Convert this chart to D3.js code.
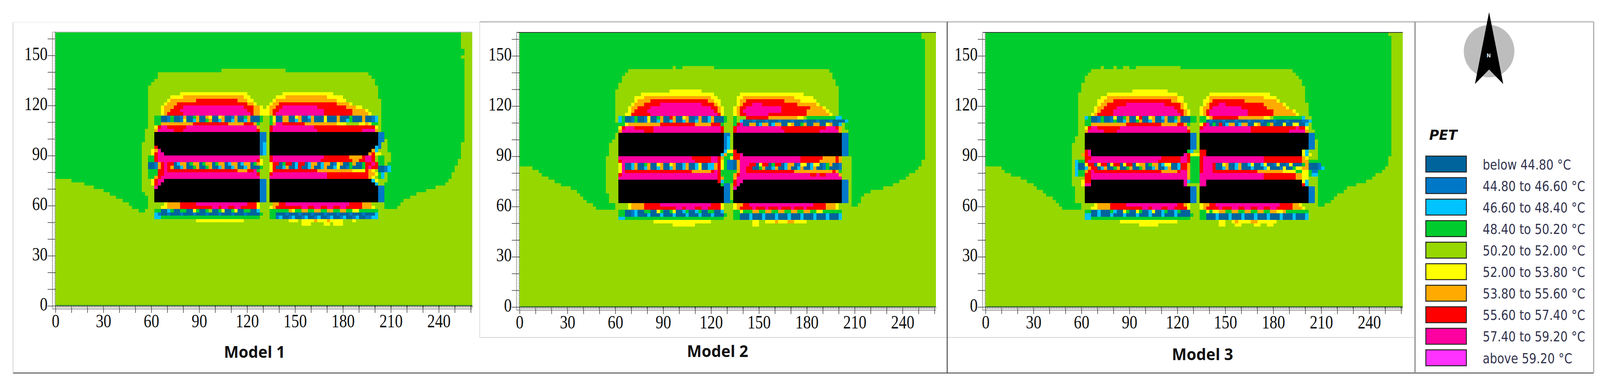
<!DOCTYPE html>
<html lang="en">
<head>
  <meta charset="UTF-8">
  <title>PET maps of three models</title>
  <script src="https://d3js.org/d3.v7.min.js"></script>
  <style>
    html, body { margin: 0; padding: 0; background: #fff; overflow: hidden; }
    svg { display: block; width: 100vw; height: 100vh; }
    .tick text { font-family: "Liberation Serif", serif; font-size: 44px; fill: #111; }
    .tick line { stroke: #444; stroke-width: 1.6px; }
    .title { font-family: "Open Sans", sans-serif; font-weight: 700; font-size: 42px; fill: #111; text-anchor: middle; }
    .legend-label { font-family: "DejaVu Sans", sans-serif; font-size: 31px; fill: #33344e; }
  </style>
</head>
<body>
  <svg id="chart" viewBox="0 0 4299 978" preserveAspectRatio="none"></svg>

  <script>
    // PET classes, coolest first, then the building colour
    const legendLabels = ["below 44.80 °C", "44.80 to 46.60 °C", "46.60 to 48.40 °C", "48.40 to 50.20 °C", "50.20 to 52.00 °C",
      "52.00 to 53.80 °C", "53.80 to 55.60 °C", "55.60 to 57.40 °C", "57.40 to 59.20 °C", "above 59.20 °C"];
    const classColors = ["#00649c", "#0078c8", "#00c3ff", "#00cd2d", "#96d700", "#ffff00", "#ffaa00", "#ff0000", "#ff00a0", "#ff32ff", "#000000"];

    const modelNames = ["Model 1", "Model 2", "Model 3"];
    const xTicks = [0, 10, 20, 30, 40, 50, 60, 70, 80, 90, 100, 110, 120, 130, 140, 150, 160, 170, 180, 190, 200, 210, 220, 230, 240, 250, 260];
    const yTicks = [0, 10, 20, 30, 40, 50, 60, 70, 80, 90, 100, 110, 120, 130, 140, 150, 160];

    // Outline of the 48.40-50.20 area, in metres
    const model1Green = [[0,164],[253.4,164],[253.4,154.5],[255.2,154.5],[255.2,150],[253.4,150],[253.4,148],[255.2,148],[255.2,100],[254,90],[250,82],[245,73],[235,70],[224,66],[216,62],[213,58],[207.6,58],[205.7,60.6],[205.7,62.9],[207.6,78.5],[209.5,89.5],[207,99.6],[205.4,104.3],[203.3,104.3],[203,124.3],[201.7,124.3],[201,131.7],[199,135.6],[195.8,140],[65.8,140],[62,135.6],[60,132.5],[58,129.8],[58,105.9],[56,105.9],[56,98.5],[54,98],[54,68.4],[56,68.4],[58,61.7],[58,58.2],[56,58.2],[56,55.5],[52,55.5],[52,58],[49.2,58.2],[44.8,62],[29,69.6],[13,74.7],[0,76.5]];
    const model2Green = [[0,164],[252,164],[253,161],[253.2,126],[255,125.4],[255,103],[253.5,88],[250,82.5],[239,75],[225,70],[217,68],[211,60],[208,60],[208,90],[206,90],[206,104],[204,107],[201,113.8],[200.8,124.7],[198.7,133.4],[193.5,141.4],[67.7,141.4],[61.4,132.7],[60,125.4],[61.4,104.3],[55.6,95.6],[53.7,81],[55.6,62.2],[60,62],[59,58],[50,58],[41.7,63],[34.4,70],[25,73.8],[16.7,78],[6.3,83.7],[0,83.7]];
    const model3Green = [[0,164],[251.8,164],[253.4,162],[253.8,127.6],[255,127],[255,122.5],[254.8,100.7],[252.8,88.4],[249.8,82.5],[241.8,76.7],[225.7,70.9],[217.7,65.1],[211.7,60],[207.7,60],[209,81],[207.7,97],[202.6,114.5],[199.6,129],[197.6,136.3],[190.6,141.4],[66.2,141.4],[62.2,136.3],[60.1,131.2],[57.1,121],[58.1,104.3],[54.1,97],[54.1,81],[56.1,62.2],[59.1,62],[59.1,58],[50.1,58],[43.1,63.6],[36,68.7],[27,74.6],[15,79.6],[8,83.7],[0,83.7]];

    // Each row: lower edge v, then u, class, u, class, ... u (2 m cells)
    const model1Rows = [
      [140, 104,4,144],
      [126, 78,5,120,4,142,5,174],
      [124, 72,5,80,6,118,5,122,4,138,5,144,6,170,5,180],
      [122, 70,5,72,6,88,7,114,6,120,5,124,4,136,5,138,6,176,5,182],
      [120, 68,5,70,6,76,7,120,6,124,5,126,4,134,5,136,6,140,7,176,6,184,5,186],
      [118, 66,5,68,6,74,7,80,8,118,7,124,6,128,5,130,4,132,5,134,6,138,7,142,8,164,7,182,6,188,5,192],
      [116, 66,5,68,6,72,7,78,8,120,7,124,6,128,5,134,6,136,7,140,8,168,7,186,6,194,5,196],
      [114, 66,5,68,6,70,7,80,8,122,7,124,6,128,5,134,6,136,7,138,8,168,7,186,6,196,5,198],
      [112, 62,3,66,0,70,1,72,3,74,0,78,1,80,6,82,0,86,3,88,6,90,0,94,6,96,5,98,0,102,5,104,6,106,0,110,1,112,6,114,0,118,3,120,6,122,0,128,3,130,4,134,3,136,5,138,0,142,6,146,0,150,5,152,6,154,0,158,2,160,6,162,0,168,5,170,0,176,6,178,0,184,3,186,0,192,6,194,0,198,1,200,2,202],
      [110, 62,3,66,0,70,1,72,3,74,0,78,1,80,5,82,0,86,2,88,6,90,0,94,3,96,6,98,0,102,2,104,6,106,0,110,2,112,6,114,0,118,2,120,6,122,0,128,3,130,4,134,3,136,5,138,0,142,6,146,0,150,2,152,6,154,0,158,1,160,6,162,0,168,5,170,0,176,6,178,0,182,2,184,3,186,0,192,6,194,0,198,1,200,2,202],
      [108, 62,3,66,6,86,7,108,6,118,7,124,6,126,3,128,4,134,3,136,6,138,8,142,7,156,6,176,5,182,4,190,5,194,6,196,5,198,3,202],
      [106, 62,5,64,7,66,8,70,7,82,8,126,6,128,4,134,7,136,8,162,7,200,5,202],
      [104, 62,6,64,8,74,7,80,8,126,7,128,4,134,7,136,8,164,7,192,8,200,6,202],
      [102, 62,10,128,1,132,4,134,10,202,1,206],
      [100, 62,10,128,1,132,4,134,10,202,1,206],
      [98, 62,10,128,1,132,4,134,10,202,1,206],
      [96, 62,10,128,1,130,2,132,4,134,10,202,1,204],
      [94, 62,7,64,10,128,1,130,2,132,4,134,10,200,2,202,1,204],
      [92, 60,5,62,6,64,8,66,10,128,1,130,2,132,4,134,10,198,6,200,2,202,4,204],
      [90, 60,5,62,7,64,8,68,10,128,1,130,2,132,4,134,10,196,6,198,7,200,5,204],
      [88, 58,3,62,7,64,8,128,4,134,7,136,8,168,7,184,6,192,7,194,8,198,7,200,4,202,3,206],
      [86, 58,3,62,7,64,8,126,7,128,5,130,4,134,7,136,8,166,7,186,6,190,7,194,8,198,7,200,4,202,3,206],
      [84, 58,0,62,1,64,6,66,7,68,8,70,7,74,0,76,2,78,6,82,0,84,3,86,6,90,0,92,3,94,6,98,0,100,3,102,6,106,0,108,2,110,6,114,0,116,2,118,6,122,0,124,3,126,6,128,5,130,4,134,5,136,7,140,0,142,3,144,7,148,0,150,2,152,7,156,0,158,2,160,6,164,0,166,2,168,6,172,0,174,1,176,5,178,6,180,0,184,3,186,6,188,0,192,3,194,7,198,8,200,7,202,3,206],
      [82, 58,0,62,1,64,6,66,7,68,8,70,7,72,6,74,0,78,2,80,6,82,0,86,3,88,6,90,0,94,3,96,6,98,0,102,2,104,6,106,0,110,2,112,6,114,0,118,2,120,6,122,0,128,3,130,4,134,5,136,7,138,0,142,2,144,6,146,0,150,2,152,7,154,0,158,2,160,6,162,0,166,2,168,6,170,0,174,2,176,5,178,0,182,1,184,3,186,0,192,3,194,7,196,8,198,7,202,0,206,1,208,2,210],
      [80, 58,3,64,7,68,8,70,7,114,6,120,7,124,8,126,3,128,4,134,5,136,7,164,6,186,5,194,7,196,6,198,5,200,4,202,0,206,1,208,2,210],
      [78, 58,3,64,7,68,8,126,7,128,4,134,7,136,8,170,7,196,6,200,5,202,3,204,2,206],
      [76, 58,3,62,6,64,7,66,8,128,4,134,8,170,7,196,6,198,5,200,4,202,3,204,2,206],
      [74, 60,5,62,7,64,8,68,10,128,1,132,4,134,10,198,2,200,5,202,4,204],
      [72, 60,5,62,7,64,8,66,10,128,1,132,4,134,10,200,2,202,4,204],
      [70, 62,8,64,10,128,1,132,4,134,10,202,1,206],
      [68, 62,10,128,1,132,4,134,10,202,1,206],
      [66, 62,10,128,1,132,4,134,10,202,1,206],
      [64, 62,10,128,1,132,4,134,10,202,1,206],
      [62, 62,10,128,1,132,4,134,10,202,1,206],
      [60, 68,5,70,6,78,7,88,8,120,7,126,5,128,4,136,6,140,7,144,8,184,7,192,6,198],
      [58, 66,5,70,6,78,7,98,8,102,7,104,8,108,7,112,8,116,7,126,5,128,4,134,5,136,6,138,7,154,8,158,7,162,8,166,7,170,8,174,7,178,8,182,7,192,6,198,5,200],
      [56, 62,3,66,0,70,2,72,3,74,0,78,3,82,0,86,5,88,3,90,0,94,3,96,4,98,0,102,3,104,5,106,0,110,3,112,5,114,0,118,3,122,0,126,2,128,4,134,3,146,6,148,5,150,3,154,6,158,3,162,6,166,3,170,6,174,3,178,6,182,3,186,5,190,3,202],
      [54, 62,2,64,1,66,0,70,1,72,0,78,1,80,0,86,1,88,0,94,1,96,0,102,1,104,0,110,1,112,0,118,1,120,0,128,3,130,4,134,3,138,0,144,1,146,0,152,1,154,0,160,1,162,0,168,1,170,0,176,1,178,0,184,1,186,0,192,1,194,0,200,2,202],
      [52, 62,2,66,3,128,4,134,3,138,1,140,2,142,0,146,1,148,2,150,0,154,1,156,2,158,0,162,1,164,2,166,0,170,1,172,2,174,0,178,1,180,2,182,0,186,1,188,2,190,0,194,1,198,2,202],
      [50, 88,5,118,4,146,5,152,4,154,5,162,6,164,5,170,6,172,5,180,4,186,5,188],
      [48, 154,5,160,4,168,5,172,4,174,5,180]
    ];

    const model2Rows = [
      [142, 96,4,98,3,102,4,122],
      [128, 94,5,114],
      [126, 76,5,122,4,138,5,178],
      [124, 72,5,78,6,120,5,124,4,136,5,140,6,172,5,184],
      [122, 72,5,74,6,82,7,118,6,122,5,126,4,136,5,138,6,142,7,166,6,176,5,186],
      [120, 70,5,72,6,78,7,88,8,114,7,122,6,124,5,126,4,136,5,138,6,140,7,146,8,152,7,174,6,186,5,188],
      [118, 68,5,70,6,74,7,82,8,120,7,124,6,126,5,128,4,134,5,136,6,138,7,142,8,164,7,182,6,190,5,192],
      [116, 68,5,70,6,72,7,80,8,122,7,124,6,126,5,128,4,134,5,136,6,138,7,140,8,164,7,180,6,192,5,194],
      [114, 66,5,70,7,82,8,124,7,126,5,128,4,134,5,136,6,138,7,142,8,156,7,180,6,194,5,196],
      [112, 62,2,64,3,66,0,70,1,72,3,74,0,78,1,80,5,82,0,86,3,88,6,90,0,94,7,96,6,98,0,102,5,104,6,106,0,110,1,112,6,114,0,118,2,120,6,122,0,128,3,130,4,134,3,136,4,142,7,156,6,174,5,178,4,180,3,198,2,202],
      [110, 62,2,64,3,66,0,70,1,72,3,74,0,78,1,80,5,82,0,86,2,88,6,90,0,94,2,96,6,98,0,102,2,104,6,106,0,110,2,112,6,114,0,118,2,120,6,122,0,128,3,130,4,134,3,136,4,138,2,140,0,146,1,148,0,154,1,156,0,162,1,164,0,170,1,172,0,178,1,180,0,186,1,188,0,194,1,196,0,204,2,206],
      [108, 62,3,66,5,68,6,88,7,110,6,120,7,126,3,128,4,134,3,136,7,138,8,140,0,144,6,148,0,150,2,152,6,156,0,158,2,160,6,164,0,168,5,170,6,172,0,176,3,178,6,180,0,184,6,188,0,192,5,194,6,196,0,200,2,202],
      [106, 62,5,64,7,66,8,72,7,84,8,126,7,128,4,134,7,136,8,164,7,192,8,198,7,200,6,202],
      [104, 62,6,64,8,78,7,84,8,126,7,128,4,134,7,136,8,166,7,188,8,200,6,202],
      [102, 62,10,128,1,132,4,134,10,202,1,206],
      [100, 62,10,128,1,130,2,132,4,134,10,202,1,206],
      [98, 62,10,128,1,130,2,132,4,134,10,202,1,206],
      [96, 62,10,128,1,130,2,132,4,134,10,202,1,206],
      [94, 62,10,128,1,130,2,132,4,134,10,202,1,206],
      [92, 62,10,128,2,130,5,134,7,136,10,202,1,206],
      [90, 62,10,126,2,128,6,130,3,134,7,138,8,140,10,202,1,206],
      [88, 62,8,108,7,120,8,124,7,126,6,128,3,132,5,134,7,138,8,176,7,190,6,198,7,200,6,202],
      [86, 62,7,64,8,110,7,120,8,124,7,126,5,128,3,130,1,134,0,136,6,138,8,176,7,188,6,198,7,200,6,202],
      [84, 62,5,64,8,66,0,70,2,72,6,74,0,78,3,80,6,82,0,86,5,88,6,90,0,94,5,96,6,98,0,102,2,104,6,106,0,110,2,112,5,114,0,118,2,122,6,124,7,126,5,128,3,130,1,134,0,136,6,138,8,144,7,148,0,150,5,152,7,156,0,158,3,160,7,164,0,166,2,168,6,172,0,174,1,176,5,180,0,182,2,184,5,188,0,190,1,192,3,194,6,196,0,200,1,202],
      [82, 62,5,64,8,66,0,70,2,72,6,74,0,78,2,80,6,82,0,86,2,88,6,90,0,94,2,96,6,98,0,102,2,104,6,106,0,110,2,112,5,114,0,118,2,122,6,124,7,126,5,128,3,130,1,134,0,136,6,138,8,142,7,146,0,150,3,152,6,154,0,158,2,160,6,162,0,166,2,168,6,170,0,174,2,176,6,178,0,182,2,184,6,186,0,190,1,192,3,194,0,200,1,202],
      [80, 62,5,64,8,66,7,108,6,120,7,122,8,124,7,126,3,136,6,138,8,142,7,172,6,196,7,198,6,200,3,202],
      [78, 62,7,64,8,124,7,126,3,134,6,136,7,138,8,182,7,186,8,188,7,192,8,200,6,202],
      [76, 62,8,124,7,126,6,128,3,134,6,136,8,202],
      [74, 62,10,124,7,126,2,128,3,134,7,136,8,140,10,202,1,206],
      [72, 62,10,126,3,128,1,132,4,134,7,136,8,138,10,202,1,206],
      [70, 62,10,128,1,132,4,134,8,136,10,202,1,206],
      [68, 62,10,128,1,132,4,134,10,202,1,206],
      [66, 62,10,128,1,132,4,134,10,202,1,206],
      [64, 62,10,128,1,132,4,134,10,202,1,206],
      [62, 62,10,128,1,132,3,134,10,202,1,206],
      [60, 68,5,70,6,78,7,88,8,120,7,126,5,128,4,134,5,136,6,140,7,144,8,184,7,192,6,198,5,200],
      [58, 68,5,70,6,78,7,98,8,102,7,104,8,110,7,114,8,118,7,126,5,128,4,134,5,136,6,138,7,146,8,148,7,154,8,156,7,162,8,164,7,170,8,172,7,178,8,180,7,192,6,198,5,200],
      [56, 62,3,66,0,70,1,72,2,74,0,78,3,82,0,86,5,88,3,90,0,94,3,96,5,98,0,102,2,104,3,106,0,110,2,112,3,114,0,118,3,122,0,126,2,128,4,134,3,138,5,140,3,146,6,150,3,154,6,158,3,162,6,166,3,170,6,174,3,178,6,182,3,186,5,190,3,202],
      [54, 62,3,66,0,70,1,72,2,74,0,80,2,82,0,88,2,90,0,96,2,98,0,104,2,106,0,112,2,114,0,120,2,122,0,128,3,130,4,134,3,138,0,144,2,146,0,152,2,154,0,160,2,162,0,168,2,170,0,176,2,178,0,184,2,186,0,192,2,194,0,200,2,202],
      [52, 62,2,66,3,128,4,134,3,138,0,144,2,146,0,152,2,154,0,160,2,162,0,168,2,170,0,176,2,178,0,184,2,186,0,192,2,194,0,200,2,202],
      [50, 84,5,120,4,146,5,150,4,154,5,160,6,162,5,168,6,172,5,180],
      [48, 96,5,110,4,146,5,150]
    ];

    const model3Rows = [
      [142, 72,4,74,3,80,4,82,3,86,4,90,3,94,4,122],
      [128, 92,5,114],
      [126, 76,5,120,4,140,5,178],
      [124, 72,5,76,6,120,5,124,4,138,5,140,6,174,5,182],
      [122, 70,5,74,6,80,7,116,6,120,5,124,4,136,5,140,6,142,7,162,6,182,5,184],
      [120, 70,5,72,6,76,7,88,8,112,7,122,6,124,5,126,4,136,5,138,6,140,7,146,8,150,7,174,6,186,5,188],
      [118, 68,5,70,6,74,7,82,8,118,7,122,6,124,5,126,4,134,5,136,6,140,7,142,8,160,7,176,6,188,5,190],
      [116, 68,5,70,6,72,7,80,8,120,7,124,6,126,5,128,4,134,5,136,6,138,7,140,8,164,7,180,6,192,5,194],
      [114, 66,5,68,6,70,7,80,8,122,7,124,6,126,5,128,4,134,5,136,6,138,7,140,8,164,7,180,6,194,5,196],
      [112, 62,2,64,3,66,0,70,1,72,3,74,0,78,1,80,5,82,0,86,3,88,6,90,0,94,5,96,7,98,0,102,5,104,6,106,0,110,2,112,6,114,0,118,3,120,6,122,0,128,3,132,4,134,3,138,5,140,6,142,7,158,6,174,5,178,4,180,3,198,2,200],
      [110, 62,3,66,0,70,1,72,3,74,0,78,1,80,3,82,0,86,2,88,6,90,0,94,3,96,6,98,0,102,2,104,6,106,0,110,1,112,6,114,0,118,2,120,6,122,0,128,3,132,4,134,3,138,0,140,1,142,0,148,1,150,0,156,1,158,0,164,1,166,0,172,1,174,0,180,1,182,0,188,1,190,0,198,1,202,2,204],
      [108, 62,3,66,6,88,7,110,6,120,7,124,6,126,3,128,4,134,5,136,7,138,8,140,0,142,3,144,0,146,7,148,0,150,2,152,6,156,0,158,2,160,6,164,0,168,5,170,6,172,0,176,3,178,6,180,0,186,5,188,0,192,5,196,0,200,2,202],
      [106, 62,5,64,7,66,8,70,7,84,8,126,6,128,4,134,7,136,8,166,7,194,8,196,7,200,5,202],
      [104, 62,6,64,8,74,7,82,8,126,7,128,4,134,8,166,7,190,8,200,6,202],
      [102, 62,10,128,1,132,4,134,10,202,1,206],
      [100, 62,10,128,1,132,4,134,10,202,1,206],
      [98, 62,10,128,1,132,4,134,10,202,1,206],
      [96, 62,10,128,1,132,4,134,10,202,1,206],
      [94, 62,10,128,1,132,4,134,10,202,1,206],
      [92, 62,7,64,8,66,10,126,3,128,2,130,4,134,7,138,10,198,5,200,2,202,4,204],
      [90, 60,6,62,7,64,8,66,10,124,8,126,7,128,5,134,7,138,10,198,5,200,2,202,5,204],
      [88, 62,7,66,8,110,7,122,8,126,7,128,3,134,7,136,8,174,7,198,6,200,5,202,4,206],
      [86, 56,2,58,3,62,7,64,8,66,8,108,7,122,8,126,7,128,3,134,7,136,8,174,7,196,7,198,6,202,3,208],
      [84, 56,2,58,0,62,5,64,7,68,0,70,5,72,7,76,0,78,5,80,7,84,0,86,5,88,7,92,0,94,5,96,6,100,0,102,3,104,6,108,0,110,2,112,5,116,0,120,2,122,7,126,6,128,3,134,7,136,8,142,7,144,0,148,5,150,6,152,0,156,2,158,6,160,0,164,2,166,5,168,0,172,2,174,5,176,0,180,1,182,5,184,0,188,1,190,5,192,0,198,3,200,6,202,0,208,1,210],
      [82, 56,2,58,0,62,2,64,6,66,7,68,7,70,0,72,2,74,6,76,0,80,3,82,6,84,0,88,3,90,6,92,0,96,3,98,6,100,0,104,2,106,6,108,0,112,2,114,6,116,0,120,2,122,7,126,6,128,3,134,7,136,8,142,7,144,0,148,2,150,6,152,0,156,2,158,6,160,0,166,2,168,0,174,2,176,5,178,0,184,1,186,5,188,0,192,3,194,5,198,6,202,0,208,1,210,2,212],
      [80, 56,2,58,3,62,6,64,7,66,8,68,7,110,6,120,7,122,8,126,6,128,3,134,7,136,8,142,7,170,6,186,5,194,3,198,5,202,3,204,1,208],
      [78, 56,2,58,3,62,7,66,8,126,6,128,3,134,8,174,7,194,6,198,5,202,3,204,2,208],
      [76, 62,7,66,8,126,6,128,3,134,8,174,7,194,6,198,5,202],
      [74, 60,5,62,7,66,10,124,8,126,2,128,3,134,8,138,10,198,5,200,2,202],
      [72, 60,5,62,8,66,10,124,8,126,4,134,8,138,10,198,7,200,2,202],
      [70, 62,10,128,1,132,4,134,10,202,1,206],
      [68, 62,10,128,1,132,4,134,10,202,1,206],
      [66, 62,10,128,1,132,4,134,10,202,1,206],
      [64, 62,10,128,1,132,4,134,10,202,1,206],
      [62, 62,10,128,1,132,4,134,10,202,1,206],
      [60, 68,5,70,6,78,7,88,8,120,7,124,6,126,5,128,4,134,5,136,6,140,7,144,8,184,7,192,6,196,5,198],
      [58, 66,5,70,6,78,7,98,8,102,7,104,8,110,7,114,8,118,7,126,5,128,4,134,5,136,6,138,7,146,8,148,7,154,8,158,7,162,8,166,7,170,8,174,7,178,8,182,7,192,6,198,5,200],
      [56, 62,3,66,0,70,2,72,0,78,3,80,2,82,0,86,5,88,3,90,0,94,5,96,3,98,0,102,2,104,5,106,0,110,2,112,3,114,0,118,2,120,3,122,0,128,4,134,3,138,5,140,3,142,5,146,6,150,3,154,6,158,3,162,6,166,3,170,6,174,3,178,6,182,5,186,6,188,3,202],
      [54, 62,2,66,0,70,2,72,0,78,2,80,0,86,2,88,0,94,2,96,0,102,2,104,0,110,2,112,0,118,2,120,0,128,3,130,4,134,3,138,0,144,2,146,0,152,2,154,0,160,2,162,0,168,2,170,0,176,2,178,0,184,2,186,0,192,2,194,0,200,2,202],
      [52, 62,2,66,3,128,4,134,3,138,0,144,2,146,0,152,2,154,0,160,2,162,0,168,2,170,0,176,2,178,0,184,2,186,0,192,2,194,0,200,2,202],
      [50, 84,5,120,4,146,5,150,4,154,5,156,6,158,5,166,6,170,5,182],
      [48, 96,5,108,4,146,5,150,4,156,5,160,4,168,5,172,4,176,5,180]
    ];

    const greenOutlines = [model1Green, model2Green, model3Green];
    const modelRows = [model1Rows, model2Rows, model3Rows];

    const svg = d3.select("#chart");

    // Frame lines around the panels
    const frameLines = [
      [35, 57, 35, 953, "#cfcfcf", 2], [35, 57, 1289, 57, "#eeeeee", 2],
      [1289, 56, 1289, 864, "#dddddd", 2], [1289, 56, 4282, 56, "#999999", 2],
      [1289, 864, 3802, 864, "#d4d4d4", 2], [35, 955, 4282, 955, "#555555", 2.5],
      [2545, 56, 2545, 955, "#444444", 2.5], [3802, 56, 3802, 955, "#888888", 3],
      [4282, 56, 4282, 955, "#aaaaaa", 3]
    ];
    svg.append("g").selectAll("line").data(frameLines).join("line")
      .attr("x1", d => d[0]).attr("y1", d => d[1]).attr("x2", d => d[2]).attr("y2", d => d[3])
      .attr("stroke", d => d[4]).attr("stroke-width", d => d[5]);

    const panels = [
      { left: 149, right: 1269, bottom: 783, top: 82, titleX: 684, titleY: 901, edge: "#bbbbbb" },
      { left: 1396, right: 2515, bottom: 786, top: 83, titleX: 1928, titleY: 899, edge: "#333333" },
      { left: 2648, right: 3769, bottom: 786, top: 83, titleX: 3231, titleY: 907, edge: "#333333" }
    ];

    panels.forEach((p, i) => drawPanel(p, i));
    drawLegend();

    // Turn the outline and the rows into a 2 m grid of classes, then into runs of rects
    function buildRuns(outline, rows) {
      const nCols = 131, nRows = 82;
      const grid = d3.range(nRows).map(r => d3.range(nCols).map(c =>
        d3.polygonContains(outline, [c * 2 + 1, r * 2 + 1]) ? 3 : 4));
      rows.forEach(row => {
        const r = row[0] / 2;
        for (let k = 1; k + 2 < row.length; k += 2) {
          for (let c = row[k] / 2; c < row[k + 2] / 2; c++) grid[r][c] = row[k + 1];
        }
      });
      const runs = [];
      grid.forEach((cells, r) => {
        let start = 0;
        cells.forEach((cls, c) => {
          if (c === nCols - 1 || cells[c + 1] !== cls) {
            runs.push({ u0: start * 2, u1: (c + 1) * 2, v: r * 2, cls: cls });
            start = c + 1;
          }
        });
      });
      return runs;
    }

    function drawPanel(p, index) {
      const x = d3.scaleLinear().domain([0, 261]).range([p.left, p.right]);
      const y = d3.scaleLinear().domain([0, 164]).range([p.bottom, p.top]);
      const g = svg.append("g");

      g.append("g").attr("shape-rendering", "crispEdges")
        .selectAll("rect").data(buildRuns(greenOutlines[index], modelRows[index])).join("rect")
        .attr("x", d => x(d.u0))
        .attr("y", d => y(Math.min(d.v + 2, 164)))
        .attr("width", d => x(Math.min(d.u1, 261)) - x(d.u0))
        .attr("height", d => y(d.v) - y(Math.min(d.v + 2, 164)))
        .attr("fill", d => classColors[d.cls]);

      // edges of the plot and the double ruler lines
      g.append("line").attr("x1", p.left - 8).attr("x2", p.right).attr("y1", p.top).attr("y2", p.top)
        .attr("stroke", p.edge).attr("stroke-width", 2);
      g.append("line").attr("x1", p.left).attr("x2", p.right).attr("y1", p.bottom - 1).attr("y2", p.bottom - 1)
        .attr("stroke", "#1c6b12").attr("stroke-width", 2);
      g.append("line").attr("x1", p.left - 8).attr("x2", p.left - 8).attr("y1", p.top).attr("y2", p.bottom + 8)
        .attr("stroke", "#bbbbbb").attr("stroke-width", 3);
      g.append("line").attr("x1", p.left - 1).attr("x2", p.left - 1).attr("y1", p.top).attr("y2", p.bottom)
        .attr("stroke", "#444444").attr("stroke-width", 2).attr("stroke-dasharray", "2 2.2");
      g.append("line").attr("x1", p.left - 8).attr("x2", p.right).attr("y1", p.bottom + 8).attr("y2", p.bottom + 8)
        .attr("stroke", "#aaaaaa").attr("stroke-width", 3);
      g.append("line").attr("x1", p.left).attr("x2", p.right).attr("y1", p.bottom + 2).attr("y2", p.bottom + 2)
        .attr("stroke", "#333333").attr("stroke-width", 4).attr("stroke-dasharray", "2 2.3");

      const yAxis = d3.axisLeft(y).tickValues(yTicks).tickSize(21).tickSizeOuter(0)
        .tickFormat(d => d % 30 === 0 ? d : "");
      const yG = g.append("g").attr("transform", `translate(${p.left},0)`).call(yAxis);
      yG.select(".domain").remove();
      yG.selectAll(".tick text").attr("x", null).attr("dy", "0.33em")
        .attr("text-anchor", "end")
        .attr("transform", "translate(-21,-5) scale(0.95,1.12)");

      const xAxis = d3.axisBottom(x).tickValues(xTicks).tickSize(18).tickSizeOuter(0)
        .tickFormat(d => d % 30 === 0 ? d : "");
      const xG = g.append("g").attr("transform", `translate(0,${p.bottom})`).call(xAxis);
      xG.select(".domain").remove();
      xG.selectAll(".tick text").attr("y", null).attr("dy", "0.33em")
        .attr("transform", "translate(0,39) scale(0.95,1.12)");

      g.append("text").attr("class", "title")
        .attr("x", p.titleX).attr("y", p.titleY).attr("dy", "0.35em")
        .text(modelNames[index]);
    }

    function drawLegend() {
      const g = svg.append("g");

      // north arrow
      g.append("ellipse").attr("cx", 4001).attr("cy", 131).attr("rx", 68).attr("ry", 67).attr("fill", "#bdbdbd");
      g.append("path").attr("d", "M4001,31L4039,215L4001,178L3963,215Z").attr("fill", "#000");
      g.append("text").attr("x", 4000).attr("y", 142).attr("dy", "0.35em").attr("text-anchor", "middle")
        .attr("font-family", "DejaVu Sans").attr("font-weight", 700).attr("font-size", 14).attr("fill", "#cfe0ee").text("N");

      g.append("text").attr("x", 3840).attr("y", 358)
        .attr("font-family", "DejaVu Sans").attr("font-weight", 700).attr("font-style", "italic")
        .attr("font-size", 36).attr("fill", "#111").text("PET");

      const row = d3.scaleBand().domain(legendLabels).range([393, 943]).paddingInner(0.26).paddingOuter(0.12);
      g.selectAll("rect").data(legendLabels).join("rect")
        .attr("x", 3831).attr("y", d => row(d)).attr("width", 109).attr("height", row.bandwidth())
        .attr("fill", (d, i) => classColors[i]).attr("stroke", "#222").attr("stroke-width", 2.5);
      g.selectAll(".legend-label").data(legendLabels).join("text")
        .attr("class", "legend-label")
        .attr("transform", d => `translate(3984,${row(d) + row.bandwidth() / 2 + 1}) scale(1,1.12)`)
        .attr("dy", "0.36em")
        .text(d => d);
    }
  </script>
</body>
</html>
